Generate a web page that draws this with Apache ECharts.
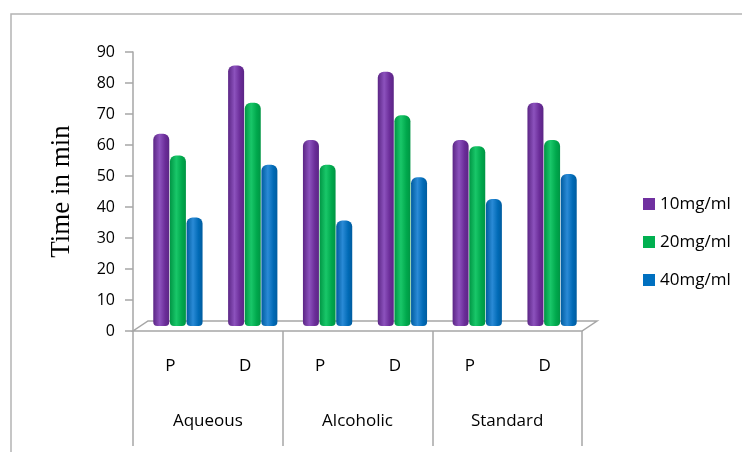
<!DOCTYPE html>
<html>
<head>
<meta charset="utf-8">
<script src="https://cdn.jsdelivr.net/npm/echarts@6/dist/echarts.min.js"></script>
<style>
  html, body { margin: 0; padding: 0; background: #fff; }
  #chart { width: 742px; height: 452px; }
</style>
</head>
<body>
<div id="chart"></div>
<script>
// Extracts and their preparations
const groups = ['Aqueous', 'Alcoholic', 'Standard'];
const subCategories = ['P', 'D', 'P', 'D', 'P', 'D'];
const seriesNames = ['10mg/ml', '20mg/ml', '40mg/ml'];

// Time in minutes for each concentration
const conc10 = [62, 84, 60, 82, 60, 72];
const conc20 = [55, 72, 52, 68, 58, 60];
const conc40 = [35, 52, 34, 48, 41, 49];

const yMin = 0, yMax = 90, yStep = 10;

// Plot layout (front plane holds the axes; bars sit half a step deeper)
const W = 742, H = 452;
const plot = { left: 133, right: 160, top: 52, bottom: 121 };
const depth = { dx: 15, dy: 10 };
const barPlot = {
  left: plot.left + depth.dx / 2,
  right: plot.right - depth.dx / 2,
  top: plot.top - depth.dy / 2,
  bottom: plot.bottom + depth.dy / 2
};

const solidColors = ['#7030a0', '#00b050', '#0070c0'];
const shadeColors = [
  ['#5b2585', '#8c52bd', '#6a2c98'],
  ['#009544', '#19c769', '#00a84c'],
  ['#005c9f', '#2a8ad6', '#006ab6']
];
function cylinder(c) {
  return new echarts.graphic.LinearGradient(0, 0, 1, 0, [
    { offset: 0, color: c[0] },
    { offset: 0.4, color: c[1] },
    { offset: 0.75, color: c[2] },
    { offset: 1, color: c[0] }
  ]);
}

const font = '"Open Sans", "Liberation Sans", sans-serif';
const gridLine = '#a6a6a6';

const fl = plot.left, fr = W - plot.right, fb = H - plot.bottom;
const floorPts = [[fl, fb], [fr, fb], [fr + depth.dx, fb - depth.dy], [fl + depth.dx, fb - depth.dy]];

const chart = echarts.init(document.getElementById('chart'), null, { renderer: 'canvas' });
chart.setOption({
  animation: false,
  backgroundColor: '#fff',
  graphic: [
    { type: 'rect', z: -10, shape: { x: 11, y: 14, width: 900, height: 600 },
      style: { fill: 'none', stroke: '#b4b4b4', lineWidth: 1.5 } },
    { type: 'polygon', z: -5, shape: { points: floorPts },
      style: { fill: '#fff', stroke: gridLine, lineWidth: 1.5 } }
  ],
  legend: {
    orient: 'vertical',
    left: 638,
    top: 188,
    icon: 'rect',
    itemWidth: 12,
    itemHeight: 12,
    itemGap: 16,
    data: seriesNames.map((n, i) => ({ name: n, itemStyle: { color: solidColors[i] } })),
    textStyle: { fontFamily: font, fontSize: 17, color: '#000', lineHeight: 22 }
  },
  grid: [
    Object.assign({}, plot, { containLabel: false }),
    Object.assign({}, barPlot, { containLabel: false })
  ],
  xAxis: [
    {
      type: 'category', gridIndex: 0, data: subCategories, position: 'bottom',
      axisLine: { show: false }, axisTick: { show: false },
      axisLabel: { margin: 27, fontFamily: font, fontSize: 17, color: '#000' }
    },
    {
      type: 'category', gridIndex: 0, data: groups, position: 'bottom',
      axisLine: { show: false },
      axisTick: { show: true, length: 115, lineStyle: { color: gridLine, width: 1.5 } },
      axisLabel: { margin: 82, fontFamily: font, fontSize: 17, color: '#000' }
    },
    {
      type: 'category', gridIndex: 1, data: subCategories, show: false
    }
  ],
  yAxis: [
    {
      type: 'value', gridIndex: 0, min: yMin, max: yMax, interval: yStep,
      name: 'Time in min', nameLocation: 'middle', nameGap: 58,
      nameTextStyle: { fontFamily: '"Liberation Serif", "DejaVu Serif", serif', fontSize: 27, color: '#000' },
      axisLine: { show: true, lineStyle: { color: gridLine, width: 1.5 } },
      axisTick: { show: true, length: 8, lineStyle: { color: gridLine, width: 1.5 } },
      axisLabel: { margin: 18, fontFamily: font, fontSize: 16, color: '#000' },
      splitLine: { show: false }
    },
    {
      type: 'value', gridIndex: 1, min: yMin, max: yMax, interval: yStep, show: false,
      splitLine: { show: false }
    }
  ],
  series: [conc10, conc20, conc40].map((vals, i) => ({
    name: seriesNames[i],
    type: 'bar',
    xAxisIndex: 2,
    yAxisIndex: 1,
    data: vals,
    barWidth: 16,
    barGap: '4%',
    color: solidColors[i],
    itemStyle: { color: cylinder(shadeColors[i]), borderRadius: [6, 6, 4, 4] }
  }))
});
</script>
</body>
</html>
